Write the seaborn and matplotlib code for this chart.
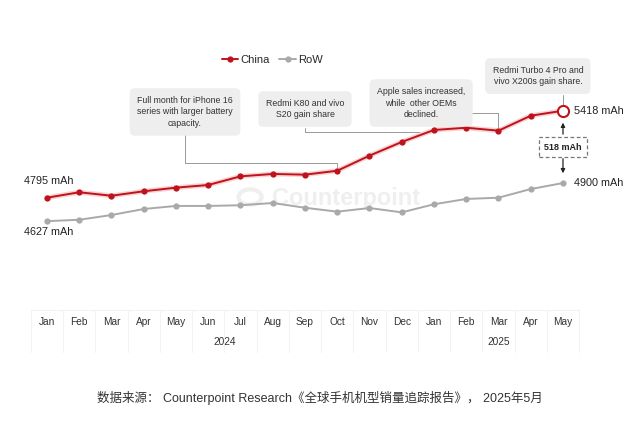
import numpy as np
import pandas as pd
import seaborn as sns
import matplotlib
matplotlib.use("Agg")
from matplotlib import pyplot as plt
from matplotlib import patheffects as pe
from matplotlib.patches import Circle
import matplotlib.transforms as mtransforms

sns.set_style("white")
plt.rcParams['font.family'] = ['Liberation Sans', 'Noto Sans CJK SC', 'DejaVu Sans']

months = ["Jan", "Feb", "Mar", "Apr", "May", "Jun", "Jul", "Aug", "Sep", "Oct",
          "Nov", "Dec", "Jan", "Feb", "Mar", "Apr", "May"]
years = ["2024", "2025"]
china = [4795, 4834, 4809, 4841, 4867, 4886, 4948, 4965, 4960, 4988,
         5096, 5194, 5280, 5296, 5275, 5382, 5418]
row = [4627, 4637, 4671, 4714, 4736, 4736, 4741, 4757, 4723, 4695,
       4721, 4690, 4748, 4786, 4795, 4857, 4900]

RED = "#c0121c"
GREY = "#a9a9a9"

idx = np.arange(len(months))
df = pd.DataFrame({
    "idx": np.concatenate([idx, idx]),
    "mAh": china + row,
    "region": ["China"] * len(idx) + ["RoW"] * len(idx),
})

fig = plt.figure(figsize=(6.4, 4.24), dpi=100)
ax = fig.add_axes([0, 0, 1, 1])

sns.lineplot(data=df, x="idx", y="mAh", hue="region", palette={"China": RED, "RoW": GREY},
             marker="o", markersize=4.5, markeredgewidth=0, linewidth=1.4, ax=ax, legend=True)
# soft halo under the China line only (no markers)
ax.plot(idx, china, color="#f7d4d4", lw=3.6, zorder=1.5, solid_capstyle="round")
ax.lines[0].set_zorder(2.5)

# hollow last China point
ax.plot(idx[-1], china[-1], marker="o", markersize=8, markerfacecolor="white",
        markeredgecolor=RED, markeredgewidth=1.5, zorder=5)

ax.set_xlim(-1.457, 18.388)
ax.set_ylim(3174.5, 6210.7)
ax.axis("off")

# legend
leg = ax.legend(loc="center", bbox_to_anchor=(0.425, 0.858), ncol=2, frameon=False,
                fontsize=8, handlelength=1.5, handletextpad=0.15, columnspacing=0.9,
                bbox_transform=fig.transFigure)

# end / start labels
lab = dict(fontsize=7.8, color="#222222", va="center", ha="left")
ax.text(-0.71, 4915, f"{china[0]} mAh", **lab)
ax.text(-0.71, 4549, f"{row[0]} mAh", **lab)
ax.text(16.34, china[-1], f"{china[-1]} mAh", **lab)
ax.text(16.34, row[-1], f"{row[-1]} mAh", **lab)

# gap marker
ax.annotate("", xy=(16, 5352), xytext=(16, 5230),
            arrowprops=dict(arrowstyle="-|>", color="#222222", lw=0.9, mutation_scale=6))
ax.annotate("", xy=(16, 4950), xytext=(16, 5094),
            arrowprops=dict(arrowstyle="-|>", color="#222222", lw=0.9, mutation_scale=6))
ax.text(16, 5158, f"{china[-1] - row[-1]} mAh", fontsize=6.5, fontweight="bold", color="#222222",
        ha="center", va="center",
        bbox=dict(boxstyle="square,pad=0.6", fc="white", ec="#777777", ls=(0, (3, 2)), lw=0.9))

# annotation boxes
box = dict(boxstyle="round,pad=0.85,rounding_size=0.6", fc="#eeeeee", ec="none")
conn = dict(color="#9a9a9a", lw=0.7, zorder=1)
notes = [
    (4.28, 5409, "Full month for iPhone 16\nseries with larger battery\ncapacity."),
    (8.0, 5430, "Redmi K80 and vivo\nS20 gain share"),
    (11.6, 5473, "Apple sales increased,\nwhile  other OEMs\ndeclined."),
    (15.22, 5666, "Redmi Turbo 4 Pro and\nvivo X200s gain share."),
]
for x, y, t in notes:
    ax.text(x, y, t, fontsize=6.3, color="#333333", ha="center", va="center",
            linespacing=1.4, bbox=box, zorder=3)

ax.plot([4.28, 4.28, 9, 9], [5265, 5043, 5043, china[9]], **conn)
ax.plot([8.0, 8.0, 12], [5294, 5268, 5268], **conn)
ax.plot([13.12, 14, 14], [5401, 5401, china[14]], **conn)
ax.plot([16, 16], [5530, 5440], **conn)

# watermark
ax.text(0.425, 0.533, "Counterpoint", transform=ax.transAxes, fontsize=17, fontweight="bold",
        color="#efefef", ha="left", va="center", zorder=0)
ax.add_patch(Circle((250 / 640, 1 - 197 / 424), 0.018, transform=fig.transFigure,
                    fill=False, ec="#efefef", lw=3, zorder=0))

# category axis table
trans = mtransforms.blended_transform_factory(ax.transData, ax.transAxes)
tk = dict(transform=trans, fontsize=7.3, color="#333333", ha="center", va="center")
for i, m in enumerate(months):
    ax.text(i, 0.2406, m, **tk)
ax.text(5.5, 0.1934, years[0], **tk)
ax.text(14, 0.1934, years[1], **tk)
for b in np.arange(-0.5, len(months), 1.0):
    ax.plot([b, b], [0.170, 0.268], transform=trans, color="#f3f3f3", lw=0.8, zorder=0)
ax.plot([-0.5, len(months) - 0.5], [0.268, 0.268], transform=trans, color="#f3f3f3", lw=0.8, zorder=0)

# source
fig.text(0.5, 1 - 398 / 424, "数据来源： Counterpoint Research《全球手机机型销量追踪报告》， 2025年5月",
         fontsize=9, color="#333333", ha="center", va="center")

fig.savefig("out.png", dpi=100)
